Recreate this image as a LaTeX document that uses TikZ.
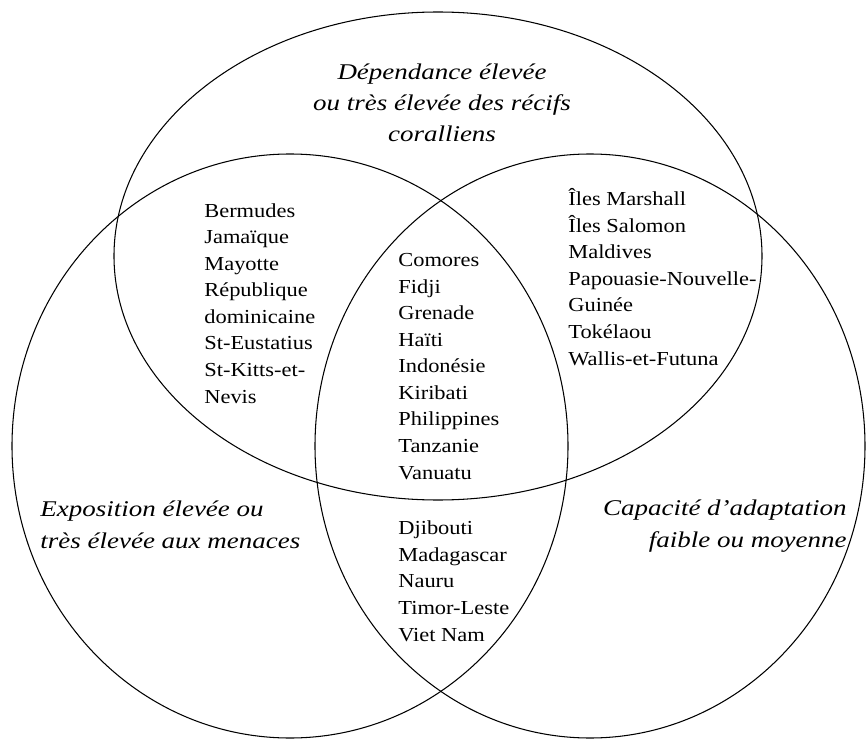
\documentclass[tikz,border=0pt]{standalone}
\usepackage{fontspec}
\setmainfont{Liberation Serif}
\newfontfamily\listefont{Liberation Serif}[FakeStretch=1.13]
\newfontfamily\titrefont{Liberation Serif}[FakeStretch=1.2]

\begin{document}
\begin{tikzpicture}[x=0.02cm,y=-0.02cm,
    zone/.style={line width=0.6pt},
    pays/.style={align=left,anchor=base west,inner sep=0pt,
      font=\listefont\fontsize{11.3}{15.1}\selectfont},
    titre/.style={inner sep=0pt,
      font=\titrefont\itshape\fontsize{12.8}{17.9}\selectfont}]
  \useasboundingbox (0,0) rectangle (866,740);
  % les trois ensembles
  \draw[zone] (438,256) ellipse [x radius=324, y radius=244];
  \draw[zone] (290,446) ellipse [x radius=278, y radius=292];
  \draw[zone] (590,446) ellipse [x radius=275, y radius=292];
  % titres (ancre sur la derniere ligne)
  \node[titre,align=center,anchor=base] (recifs) at (442,142)
    {Dépendance élevée\\ou très élevée des récifs\\coralliens};
  \node[titre,align=left,anchor=base west] (exposition) at (40,548)
    {Exposition élevée ou\\très élevée aux menaces};
  \node[titre,align=right,anchor=base east] (capacite) at (847,547)
    {Capacité d’adaptation\\faible ou moyenne};
  % pays
  \node[pays] (recifsexpo) at (204,403)
    {Bermudes\\Jamaïque\\Mayotte\\République\\dominicaine\\St-Eustatius\\St-Kitts-et-\\Nevis};
  \node[pays] (recifscapa) at (568,365)
    {Îles Marshall\\Îles Salomon\\Maldives\\Papouasie-Nouvelle-\\Guinée\\Tokélaou\\Wallis-et-Futuna};
  \node[pays] (tous) at (398,479)
    {Comores\\Fidji\\Grenade\\Haïti\\Indonésie\\Kiribati\\Philippines\\Tanzanie\\Vanuatu};
  \node[pays] (expocapa) at (398,641)
    {Djibouti\\Madagascar\\Nauru\\Timor-Leste\\Viet Nam};
\end{tikzpicture}
\end{document}
